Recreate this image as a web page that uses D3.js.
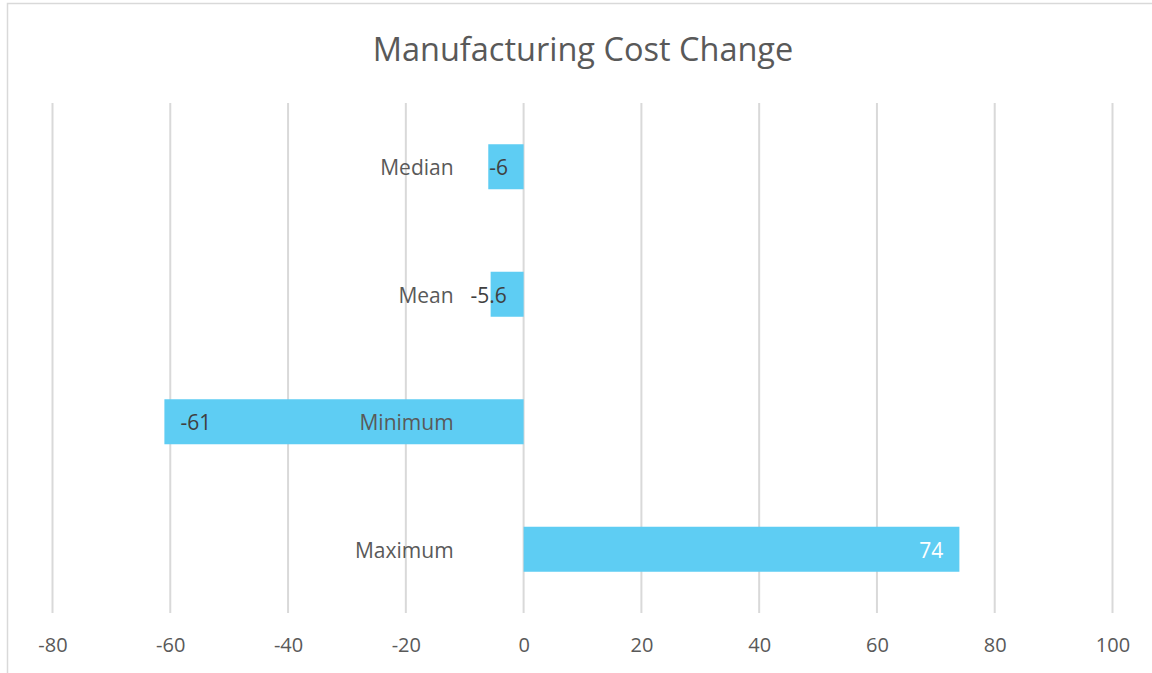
<!DOCTYPE html>
<html>
<head>
<meta charset="utf-8">
<script src="https://cdn.jsdelivr.net/npm/d3@7"></script>
<style>
  html, body { margin: 0; padding: 0; background: #fff; }
  svg { display: block; }
</style>
</head>
<body>
<svg id="chart" width="1152" height="673"></svg>
<script>
const title = "Manufacturing Cost Change";
const categories = ["Median", "Mean", "Minimum", "Maximum"];
const values = [-6, -5.6, -61, 74];
const valueLabels = ["-6", "-5.6", "-61", "74"];
const xTicks = [-80, -60, -40, -20, 0, 20, 40, 60, 80, 100];

const W = 1152, H = 673;
const svg = d3.select("#chart");
const FONT = "'Open Sans', 'Noto Sans', sans-serif";

// outer chart border
svg.append("rect")
  .attr("x", 7.5).attr("y", 3.5)
  .attr("width", W).attr("height", H)
  .attr("fill", "none").attr("stroke", "#d9d9d9").attr("stroke-width", 1.5);

const x = d3.scaleLinear().domain([-80, 100]).range([52.5, 1112.5]);
const y = d3.scaleBand().domain(categories).range([103, 613]).paddingInner(0.647).paddingOuter(0.3235);

// title
svg.append("text")
  .attr("x", 583).attr("y", 61)
  .attr("text-anchor", "middle")
  .attr("font-family", FONT).attr("font-size", 32.5)
  .attr("fill", "#595959")
  .text(title);

// gridlines
svg.append("g").selectAll("line").data(xTicks).join("line")
  .attr("x1", d => x(d)).attr("x2", d => x(d))
  .attr("y1", 103).attr("y2", 613)
  .attr("stroke", "#d9d9d9").attr("stroke-width", 2);

// x axis labels
const xAxis = d3.axisBottom(x).tickValues(xTicks).tickSize(0).tickPadding(0).tickFormat(d => String(d));
const gx = svg.append("g").attr("transform", "translate(0,652)").call(xAxis);
gx.select(".domain").remove();
gx.selectAll("text")
  .attr("font-family", FONT).attr("font-size", 20).attr("fill", "#595959")
  .attr("dy", "0");

// bars
const data = categories.map((c, i) => ({ c, v: values[i], l: valueLabels[i] }));
svg.append("g").selectAll("rect").data(data).join("rect")
  .attr("x", d => x(Math.min(0, d.v)))
  .attr("width", d => Math.abs(x(d.v) - x(0)))
  .attr("y", d => y(d.c))
  .attr("height", y.bandwidth())
  .attr("fill", "#5ecdf3");

// category labels (axis at zero)
const yAxis = d3.axisLeft(y).tickSize(0).tickPadding(70);
const gy = svg.append("g").attr("transform", `translate(${x(0)},0)`).call(yAxis);
gy.select(".domain").remove();
gy.selectAll("text")
  .attr("font-family", FONT).attr("font-size", 21).attr("fill", "#595959")
  .attr("dy", "0.4em");

// data labels (inside end)
const lbl = svg.append("g").selectAll("text").data(data).join("text")
  .attr("font-family", FONT).attr("font-size", 21)
  .attr("y", d => y(d.c) + y.bandwidth() / 2)
  .attr("dy", "0.4em")
  .attr("fill", d => d.v > 0 ? "#ffffff" : "#404040")
  .text(d => d.l);

lbl.each(function(d) {
  const t = d3.select(this);
  const tw = this.getComputedTextLength();
  const bw = Math.abs(x(d.v) - x(0));
  const end = x(d.v);
  const pad = 16;
  if (bw >= tw + 2 * pad) {
    if (d.v < 0) t.attr("x", end + pad).attr("text-anchor", "start");
    else t.attr("x", end - pad).attr("text-anchor", "end");
  } else if (bw > tw) {
    t.attr("x", end + (d.v < 0 ? 1 : -1)).attr("text-anchor", d.v < 0 ? "start" : "end");
  } else {
    t.attr("x", end + (d.v < 0 ? -2 : 2)).attr("text-anchor", "middle");
  }
});
</script>
</body>
</html>
